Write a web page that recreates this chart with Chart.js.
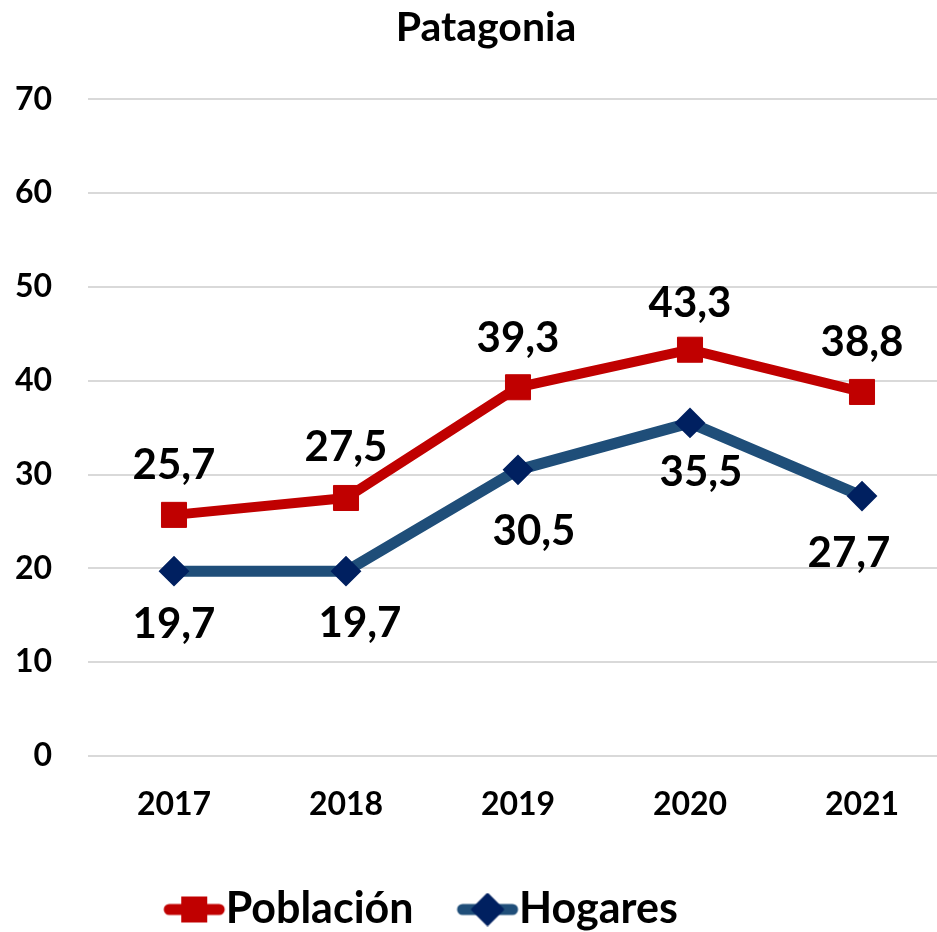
<!DOCTYPE html>
<html><head><meta charset="utf-8">
<script src="https://cdn.jsdelivr.net/npm/chart.js@4.4.1/dist/chart.umd.min.js"></script>
<style>
html,body{margin:0;padding:0;background:#fff;overflow:hidden;}
#wrap{position:relative;width:937px;height:932px;overflow:hidden;background:#fff;}
#c{position:absolute;left:0;top:0;}
</style></head><body>
<div id="wrap"><canvas id="c" width="972" height="941"></canvas></div>
<script>
const chartTitle = 'Patagonia';
const categories = ['2017', '2018', '2019', '2020', '2021'];
const seriesNames = ['Población', 'Hogares'];
const poblacion = [25.7, 27.5, 39.3, 43.3, 38.8];
const hogares = [19.7, 19.7, 30.5, 35.5, 27.7];
const yTicks = [0, 10, 20, 30, 40, 50, 60, 70];

const RED = '#C00000';
const BLUE_LINE = '#1F4E79';
const BLUE_MARK = '#002060';
const FONT = 'Lato, "Open Sans", sans-serif';

// label placement relative to each point (pixels)
const labelShift = [
  { dx: [0, 0, 0, 0, 0], dy: [-51, -52, -50, -48, -51] },
  { dx: [0, 14, 16, 11, -13], dy: [52, 51, 60, 48, 56] }
];

function legendSymbol(lineColor, markColor, kind) {
  const cv = document.createElement('canvas');
  cv.width = 64; cv.height = 34;
  const g = cv.getContext('2d');
  g.strokeStyle = lineColor; g.lineWidth = 11; g.lineCap = 'round';
  g.beginPath(); g.moveTo(7, 17); g.lineTo(57, 17); g.stroke();
  g.fillStyle = markColor;
  if (kind === 'rect') {
    g.fillRect(32 - 13, 17 - 13, 26, 26);
  } else {
    g.lineJoin = 'round'; g.strokeStyle = markColor; g.lineWidth = 3;
    g.beginPath(); g.moveTo(32, 2); g.lineTo(47, 17); g.lineTo(32, 32); g.lineTo(17, 17); g.closePath();
    g.fill(); g.stroke();
  }
  return cv;
}
const legendImgs = [legendSymbol(RED, RED, 'rect'), legendSymbol(BLUE_LINE, BLUE_MARK, 'diamond')];

const valueLabels = {
  id: 'valueLabels',
  afterDatasetsDraw(chart) {
    const ctx = chart.ctx;
    ctx.save();
    ctx.font = 'bold 42px ' + FONT;
    ctx.fillStyle = '#000';
    ctx.textAlign = 'center';
    ctx.textBaseline = 'alphabetic';
    chart.data.datasets.forEach((ds, di) => {
      const meta = chart.getDatasetMeta(di);
      meta.data.forEach((el, i) => {
        const txt = ds.data[i].toFixed(1).replace('.', ',');
        const s = labelShift[di];
        ctx.fillText(txt, el.x + s.dx[i], el.y + s.dy[i] + 15);
      });
    });
    ctx.restore();
  }
};

const adjustBoxes = {
  id: 'adjustBoxes',
  afterLayout(chart) {
    const t = chart.titleBlock;
    if (t) { t.left += 12; t.right += 12; }
    const lg = chart.legend;
    if (lg && lg.lineWidths) {
      const pad = lg.options.labels.padding;
      const lw = lg.lineWidths[0];
      const cur = (lg.left + pad + lg.right - lw) / 2;
      const want = (862 + pad - lw) / 2;
      const sh = want - cur;
      lg.left += sh; lg.right += sh;
    }
  }
};

new Chart(document.getElementById('c'), {
  type: 'line',
  data: {
    labels: categories,
    datasets: [
      {
        label: seriesNames[0], data: poblacion,
        borderColor: RED, backgroundColor: RED, borderWidth: 10,
        borderJoinStyle: 'round', borderCapStyle: 'round',
        pointStyle: 'rect', pointRadius: 17.7, pointHoverRadius: 17.7,
        pointBackgroundColor: RED, pointBorderColor: RED, pointBorderWidth: 1,
        tension: 0
      },
      {
        label: seriesNames[1], data: hogares,
        borderColor: BLUE_LINE, backgroundColor: BLUE_LINE, borderWidth: 11,
        borderJoinStyle: 'round', borderCapStyle: 'round',
        pointStyle: 'rectRot', pointRadius: 14, pointHoverRadius: 14,
        pointBackgroundColor: BLUE_MARK, pointBorderColor: BLUE_MARK, pointBorderWidth: 2,
        tension: 0
      }
    ]
  },
  options: {
    responsive: false,
    animation: false,
    layout: { padding: { left: 0, right: 24, top: 0, bottom: 0 } },
    plugins: {
      title: {
        display: true, text: chartTitle, color: '#000',
        font: { family: FONT, size: 41, weight: 'bold' },
        padding: { top: 3, bottom: 47 }
      },
      legend: {
        display: true, position: 'bottom', align: 'center',
        labels: {
          color: '#000',
          font: { family: FONT, size: 43, weight: 'bold' },
          usePointStyle: true, pointStyleWidth: 20, padding: 64,
          generateLabels(chart) {
            return chart.data.datasets.map((ds, i) => ({
              text: ds.label, pointStyle: legendImgs[i], datasetIndex: i,
              fillStyle: ds.borderColor, strokeStyle: ds.borderColor, lineWidth: 0,
              fontColor: '#000', hidden: false
            }));
          }
        }
      },
      tooltip: { enabled: false }
    },
    scales: {
      x: {
        offset: true,
        grid: { display: false, drawTicks: false },
        border: { display: false },
        ticks: { color: '#000', font: { family: FONT, size: 32, weight: 'bold' }, padding: 29 },
        afterFit(s) { s.height = 68; }
      },
      y: {
        min: yTicks[0], max: yTicks[yTicks.length - 1],
        grid: { color: '#D9D9D9', lineWidth: 2, drawTicks: false },
        border: { display: false },
        ticks: {
          stepSize: yTicks[1] - yTicks[0], color: '#000',
          font: { family: FONT, size: 32, weight: 'bold' }, padding: 36
        },
        afterFit(s) { s.width = 88; }
      }
    }
  },
  plugins: [valueLabels, adjustBoxes]
});
</script>
</body></html>
